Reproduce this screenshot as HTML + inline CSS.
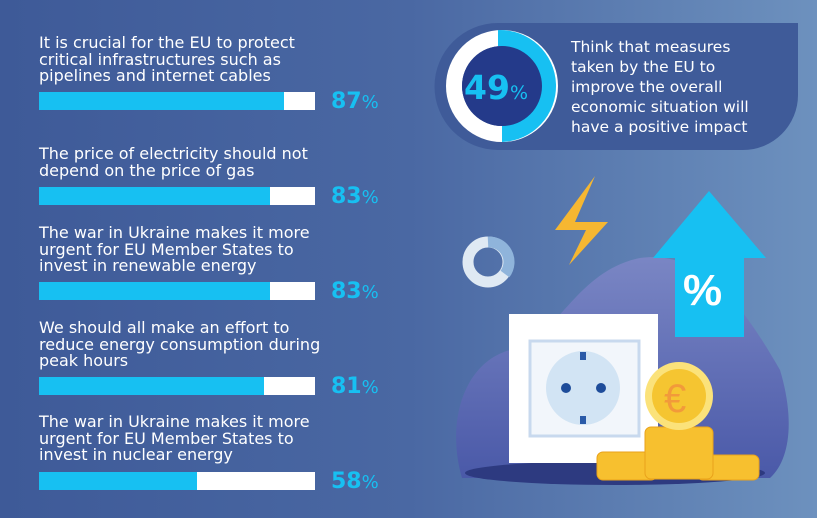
<!DOCTYPE html>
<html><head><meta charset="utf-8"><style>
body{margin:0;width:817px;height:518px;overflow:hidden;font-family:"DejaVu Sans","Liberation Sans",sans-serif;}
.bg{position:absolute;left:0;top:0;width:817px;height:518px;background:linear-gradient(90deg,#3e5a98 0%,#4a68a3 50%,#6d91be 100%);}
.t{position:absolute;left:39px;color:#fff;font-size:16px;line-height:16.5px;}
.bar{position:absolute;left:39px;width:276px;height:18px;background:#fff}
.bar div{height:100%;background:#17c0f2}
.p{position:absolute;left:331px;color:#17c0f2;font-weight:bold;font-size:22px}
.p span{font-weight:normal;font-size:18px}
</style></head><body><div class="bg"></div>
<div class="t" style="top:35px">It is crucial for the EU to protect<br>critical infrastructures such as<br>pipelines and internet cables</div>
<div class="bar" style="top:92px"><div style="width:245px"></div></div><div class="p" style="top:89px">87<span>%</span></div>
<div class="t" style="top:146px">The price of electricity should not<br>depend on the price of gas</div>
<div class="bar" style="top:187px"><div style="width:231px"></div></div><div class="p" style="top:184px">83<span>%</span></div>
<div class="t" style="top:225px">The war in Ukraine makes it more<br>urgent for EU Member States to<br>invest in renewable energy</div>
<div class="bar" style="top:282px"><div style="width:231px"></div></div><div class="p" style="top:279px">83<span>%</span></div>
<div class="t" style="top:320px">We should all make an effort to<br>reduce energy consumption during<br>peak hours</div>
<div class="bar" style="top:377px"><div style="width:225px"></div></div><div class="p" style="top:374px">81<span>%</span></div>
<div class="t" style="top:414px">The war in Ukraine makes it more<br>urgent for EU Member States to<br>invest in nuclear energy</div>
<div class="bar" style="top:472px"><div style="width:158px"></div></div><div class="p" style="top:469px">58<span>%</span></div>

<svg style="position:absolute;left:0;top:0" width="817" height="518">
<path d="M498,23 H798 V95 A55,55 0 0 1 743,150 H498 A63.5,63.5 0 0 1 498,23 Z" fill="#3f5b99"/>
<circle cx="502" cy="86" r="48" fill="none" stroke="#fff" stroke-width="16"/>
<path d="M498,30 A56,56 0 0 1 502,142 L502,126 A40,40 0 0 0 498,46 Z" fill="#17c0f2"/>
<circle cx="502" cy="86" r="40" fill="#243a8a"/>
<text x="464" y="99" font-family="DejaVu Sans" font-weight="bold" font-size="33" fill="#17c0f2">49<tspan font-size="19" font-weight="normal">%</tspan></text>
<g font-family="DejaVu Sans" font-size="15.5" fill="#fff"><text x="571" y="52">Think that measures</text><text x="571" y="72">taken by the EU to</text><text x="571" y="92">improve the overall</text><text x="571" y="112">economic situation will</text><text x="571" y="132">have a positive impact</text></g>
<defs><linearGradient id="bl" x1="0" y1="0" x2="0" y2="1"><stop offset="0" stop-color="#7a86c4"/><stop offset="1" stop-color="#4a59a8"/></linearGradient></defs>
<path d="M462,478 C445,420 465,355 520,348 C560,330 580,270 640,258 C700,250 740,300 780,370 C795,420 790,460 770,478 Z" fill="url(#bl)"/>
<ellipse cx="615" cy="473" rx="150" ry="12" fill="#2d3a80"/>
<polygon points="709,191 766,258 744,258 744,337 675,337 675,258 653,258" fill="#17c0f2"/>
<text x="683" y="305" font-family="Liberation Sans" font-weight="bold" font-size="44" fill="#fff">%</text>
<polygon points="595,176 575,222 608,222 569,265 586,230 555,230" fill="#f6b731"/>
<circle cx="488" cy="262" r="20" fill="none" stroke="#dfe9f3" stroke-width="11"/>
<path d="M488,242 A20,20 0 0 1 505,274" fill="none" stroke="#8fb4db" stroke-width="11"/>
<rect x="509" y="314" width="149" height="149" fill="#fff"/>
<rect x="530" y="341" width="109" height="95" fill="#f2f6fb" stroke="#c8d9ee" stroke-width="3"/>
<circle cx="583" cy="388" r="37" fill="#d2e4f4"/>
<circle cx="566" cy="388" r="5" fill="#1e4c9a"/><circle cx="601" cy="388" r="5" fill="#1e4c9a"/>
<rect x="580" y="352" width="6" height="8" fill="#2a5aa8"/><rect x="580" y="416" width="6" height="8" fill="#2a5aa8"/>
<g fill="#f7c02f" stroke="#e9a21b" stroke-width="1">
<rect x="597" y="452" width="60" height="28" rx="6"/>
<rect x="697" y="455" width="62" height="25" rx="6"/>
<rect x="645" y="427" width="68" height="52" rx="6"/>
</g>
<circle cx="679" cy="396" r="34" fill="#fbe27a"/><circle cx="679" cy="396" r="27" fill="#f5c531"/>
<text x="664" y="412" font-family="Liberation Sans" font-size="40" fill="#f29a3a">€</text>
</svg>
</body></html>
